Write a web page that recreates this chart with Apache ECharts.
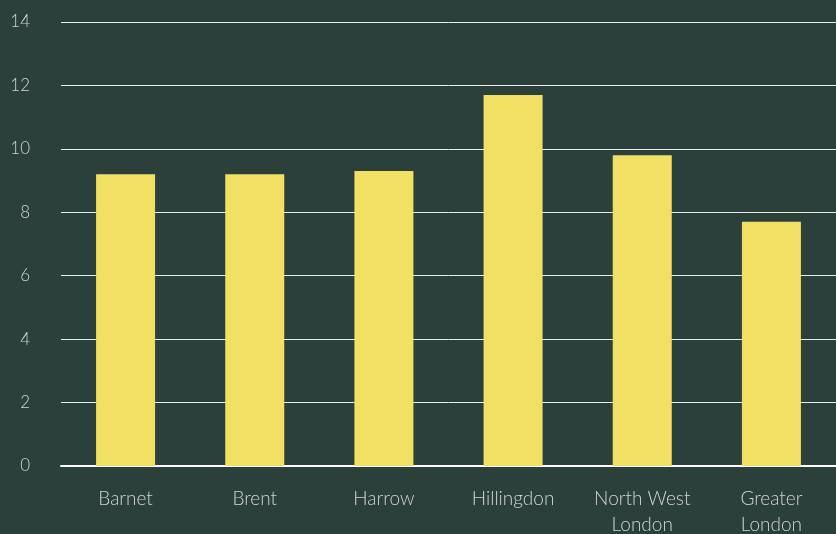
<!DOCTYPE html>
<html>
<head>
<meta charset="utf-8">
<script src="https://cdn.jsdelivr.net/npm/echarts@6/dist/echarts.min.js"></script>
<style>
  html, body { margin: 0; padding: 0; background: #2c403b; }
  #chart { width: 836px; height: 534px; }
</style>
</head>
<body>
<div id="chart"></div>
<script>
const categories = ['Barnet', 'Brent', 'Harrow', 'Hillingdon', 'North West\nLondon', 'Greater\nLondon']
const values = [9.2, 9.2, 9.3, 11.7, 9.8, 7.7]
const yTicks = { min: 0, max: 14, interval: 2 }

const chart = echarts.init(document.getElementById('chart'))
chart.setOption({
  backgroundColor: '#2c403b',
  animation: false,
  textStyle: { fontFamily: 'Lato' },
  grid: { left: 61, right: 0, top: 22, bottom: 68, outerBoundsMode: 'none', containLabel: false },
  xAxis: {
    type: 'category',
    data: categories,
    axisTick: { show: false },
    axisLine: { lineStyle: { color: '#ffffff', width: 2 } },
    axisLabel: {
      color: '#d0d5d2',
      fontSize: 19,
      fontWeight: 300,
      lineHeight: 26,
      margin: 20
    }
  },
  yAxis: {
    type: 'value',
    min: yTicks.min,
    max: yTicks.max,
    interval: yTicks.interval,
    axisLine: { show: false },
    axisTick: { show: false },
    splitLine: { lineStyle: { color: '#e8ecea', width: 1 } },
    axisLabel: {
      color: '#d0d5d2',
      fontSize: 17,
      fontWeight: 300,
      margin: 31
    }
  },
  series: [
    {
      type: 'bar',
      data: values,
      barWidth: 59,
      itemStyle: { color: '#f2e064' }
    }
  ]
})
</script>
</body>
</html>
